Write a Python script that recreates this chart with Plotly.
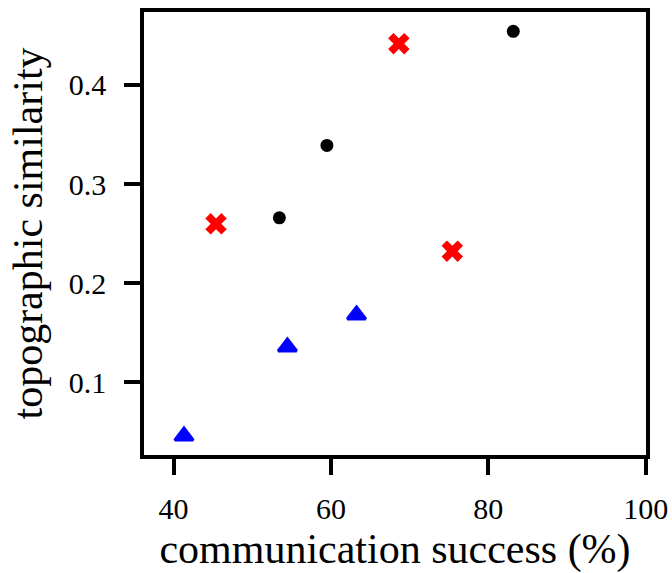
import plotly.graph_objects as go

# data
circle_x = [53.45, 59.49, 83.17]
circle_y = [0.266, 0.339, 0.454]
cross_x = [45.4, 68.63, 75.42]
cross_y = [0.260, 0.4415, 0.2324]
tri_x = [41.33, 54.47, 63.25]
tri_y = [0.046, 0.1358, 0.168]

x_ticks = [40, 60, 80, 100]
y_ticks = [0.1, 0.2, 0.3, 0.4]
x_title = "communication success (%)"
y_title = "topographic similarity"

FONT = "Liberation Serif"

fig = go.Figure()
fig.add_trace(go.Scatter(x=circle_x, y=circle_y, mode="markers",
                         marker=dict(symbol="circle", size=13, color="black"),
                         showlegend=False))
fig.add_trace(go.Scatter(x=cross_x, y=cross_y, mode="markers",
                         marker=dict(symbol="x", size=19, color="red"),
                         showlegend=False))
fig.add_trace(go.Scatter(x=tri_x, y=tri_y, mode="markers",
                         marker=dict(symbol="triangle-up", size=16, color="blue",
                                     line=dict(color="blue", width=3)),
                         showlegend=False))

axis_common = dict(showline=True, linecolor="black", linewidth=3.5, mirror=True,
                   ticks="outside", ticklen=16, tickwidth=3.5, tickcolor="black",
                   showgrid=False, zeroline=False, automargin=False,
                   tickfont=dict(family=FONT, size=30, color="black"))

fig.update_xaxes(range=[36.25, 100.03], tickvals=x_ticks,
                 ticktext=[str(v) for v in x_ticks], ticklabelstandoff=8,
                 title=dict(text=x_title, font=dict(family=FONT, size=42, color="black"),
                            standoff=12),
                 **axis_common)
fig.update_yaxes(range=[0.0269, 0.4735], tickvals=y_ticks,
                 ticktext=[f"{v:.1f}" for v in y_ticks], ticklabelstandoff=12,
                 title=dict(text=y_title, font=dict(family=FONT, size=42, color="black"),
                            standoff=14),
                 **axis_common)

fig.update_layout(width=672, height=573,
                  margin=dict(l=144, r=26, t=12, b=118),
                  paper_bgcolor="white", plot_bgcolor="white",
                  font=dict(family=FONT, color="black"))

fig.write_html("out.html")
